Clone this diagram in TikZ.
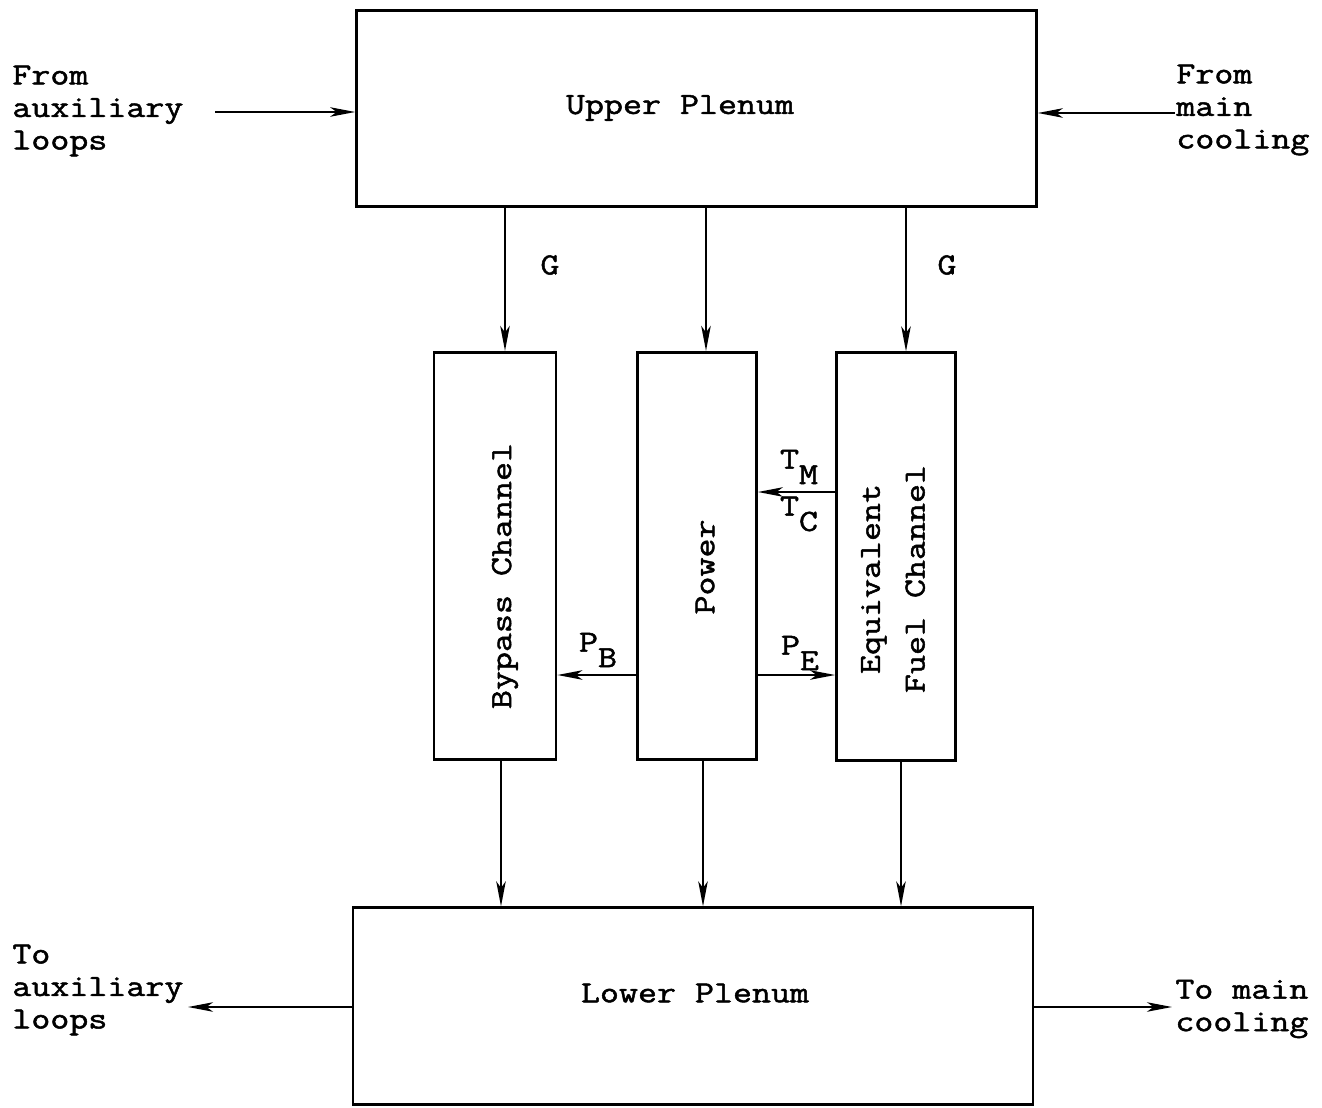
\documentclass[tikz,border=0pt]{standalone}
\usepackage{fontspec}
\setmonofont[FakeStretch=1.2, FakeBold=1.6]{Latin Modern Mono}
\usetikzlibrary{arrows.meta, positioning}
\newcommand\typefont{\ttfamily\fontsize{17.5}{18.5}\selectfont}
\newcommand\lowsub[1]{\raisebox{-0.5em}{#1}}
\tikzset{
  plenum/.style={
    draw, line width=1.6pt,
    minimum width=13.6cm, minimum height=3.93cm,
    font=\typefont
  },
  channel/.style={
    draw, line width=1.6pt,
    minimum width=2.38cm, minimum height=8.15cm
  },
  chtext/.style={rotate=90, font=\typefont, align=center, inner sep=0pt},
  sidetext/.style={font=\typefont, align=left, anchor=west, inner sep=0pt},
  quantity/.style={font=\typefont, inner sep=0pt},
  flow/.style={
    -{Stealth[length=0.5cm, width=0.19cm, inset=0.13cm]},
    line width=1.1pt
  }
}

\begin{document}
\begin{tikzpicture}[x=0.02cm, y=-0.02cm]
  \useasboundingbox (0,0) rectangle (1322,1108);

  % plenums
  \node[plenum] (upper) at (696.5,108.5) {};
  \node[plenum] (lower) at (693,1006) {};
  \node[quantity] (uppertext) at (680,108) {Upper Plenum};
  \node[quantity] (lowertext) at (695,993) {Lower Plenum};

  % channels
  \node[channel, minimum width=2.44cm] (bypass) at (495,556) {};
  \node[channel] (power) at (697,556) {};
  \node[channel] (equiv) at (896,556.5) {};
  \node[chtext] (bypasstext) at (505,576) {Bypass Channel};
  \node[chtext] (powertext) at (705,567) {Power};
  \node[chtext] (equivtext) at (893,579) {Equivalent\\[7pt]Fuel Channel};

  % outside connections
  \node[sidetext] (fromaux) at (12,111) {From\\auxiliary\\loops};
  \node[sidetext] (frommain) at (1176,110) {From\\main\\cooling};
  \node[sidetext] (toaux) at (12,990) {To\\auxiliary\\loops};
  \node[sidetext] (tomain) at (1175,1009) {To main\\cooling};
  \coordinate (fromauxstart) at (215,112);
  \coordinate (frommainstart) at (1175,113);
  \coordinate (toauxend) at (188,1007);
  \coordinate (tomainend) at (1172,1007);

  \draw[flow] (fromauxstart) -- (fromauxstart -| upper.west);
  \draw[flow] (frommainstart) -- (frommainstart -| upper.east);
  \draw[flow] (toauxend -| lower.west) -- (toauxend);
  \draw[flow] (tomainend -| lower.east) -- (tomainend);

  % flow through the core
  \draw[flow] ([xshift=0.2cm]bypass.north |- upper.south) -- ([xshift=0.2cm]bypass.north);
  \draw[flow] ([xshift=0.18cm]power.north |- upper.south) -- ([xshift=0.18cm]power.north);
  \draw[flow] ([xshift=0.2cm]equiv.north |- upper.south) -- ([xshift=0.2cm]equiv.north);
  \draw[flow] ([xshift=0.12cm]bypass.south) -- ([xshift=0.12cm]bypass.south |- lower.north);
  \draw[flow] ([xshift=0.12cm]power.south) -- ([xshift=0.12cm]power.south |- lower.north);
  \draw[flow] ([xshift=0.1cm]equiv.south) -- ([xshift=0.1cm]equiv.south |- lower.north);
  \node[quantity] (gbypass) at (550,265) {G};
  \node[quantity] (gequiv) at (947,265) {G};

  % coupling between channels
  \coordinate (tlevel) at (0,492);
  \coordinate (plevel) at (0,675);
  \draw[flow] (equiv.west |- tlevel) -- (power.east |- tlevel);
  \draw[flow] (power.west |- plevel) -- (bypass.east |- plevel);
  \draw[flow] (power.east |- plevel) -- (equiv.west |- plevel);
  \node[quantity] (tm) at (799,467) {T\lowsub{M}};
  \node[quantity] (tc) at (799,514) {T\lowsub{C}};
  \node[quantity] (pb) at (598,650) {P\lowsub{B}};
  \node[quantity] (pe) at (800,653) {P\lowsub{E}};
\end{tikzpicture}
\end{document}
